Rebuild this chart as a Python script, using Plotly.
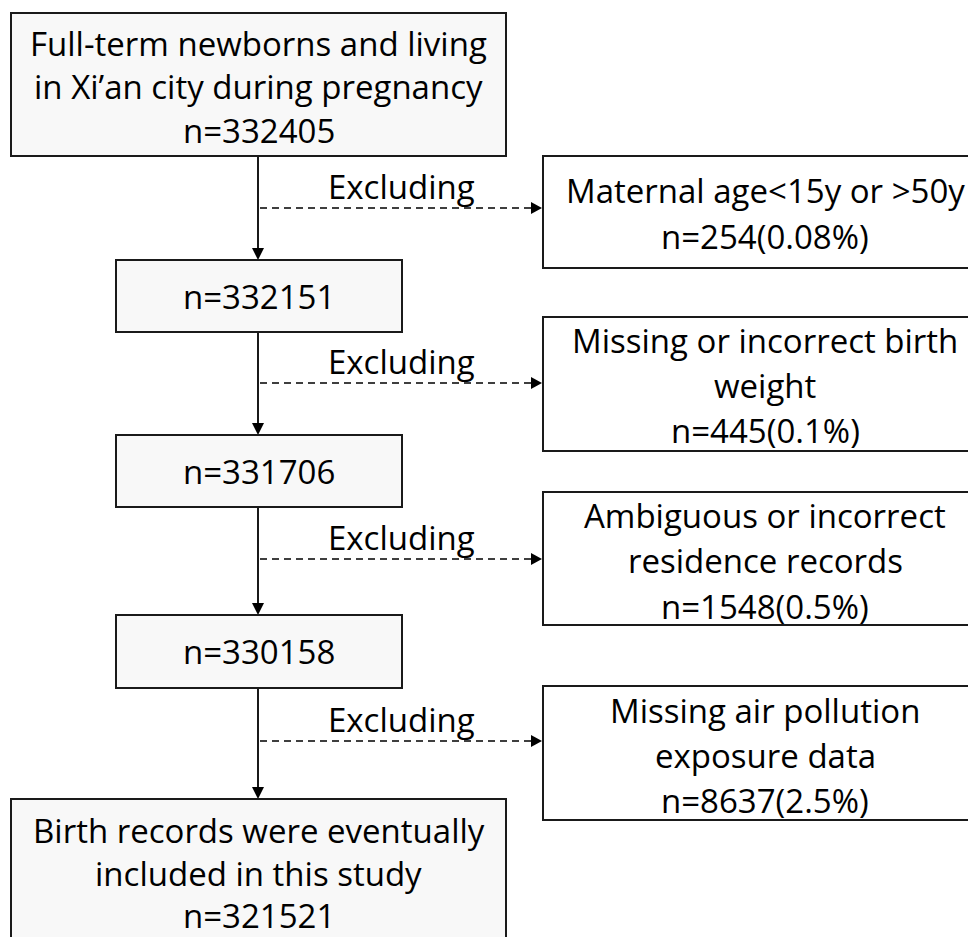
import plotly.graph_objects as go

# ---- data ----
main_labels = [
    ["Full-term newborns and living", "in Xi\u2019an city during pregnancy", "n=332405"],
    ["n=332151"],
    ["n=331706"],
    ["n=330158"],
    ["Birth records were eventually", "included in this study", "n=321521"],
]
excl_labels = [
    ["Maternal age<15y or >50y", "n=254(0.08%)"],
    ["Missing or incorrect birth", "weight", "n=445(0.1%)"],
    ["Ambiguous or incorrect", "residence records", "n=1548(0.5%)"],
    ["Missing air pollution", "exposure data", "n=8637(2.5%)"],
]
arrow_text = "Excluding"

# ---- layout geometry (page pixels) ----
PAD = 8  # page body margin
W, H = 976 - PAD, 937 - PAD
main_boxes = [(11, 13, 506, 156), (116, 260, 402, 332), (116, 435, 402, 507),
              (116, 615, 402, 688), (11, 799, 506, 945)]
main_line_y = [[43, 86, 130], [296], [471], [651], [830, 873, 915]]
excl_boxes = [(543, 156, 985, 268), (543, 317, 985, 451), (543, 492, 985, 625),
              (543, 686, 985, 820)]
excl_line_y = [[190, 236], [340, 385, 430], [515, 560, 606], [710, 755, 800]]
excl_text_x = 765
arrow_y = [208, 383, 559, 741]
spine_x = 258
FONT = "Open Sans"
FS = 33
TXT = "#000000"

fig = go.Figure()
shapes = []
annos = []

def rect(b, fill):
    shapes.append(dict(type="rect", x0=b[0], y0=b[1], x1=b[2], y1=b[3],
                       line=dict(color="#1a1a1a", width=2), fillcolor=fill, layer="above"))

def tri_down(x, ytip):
    shapes.append(dict(type="path", path=f"M {x-6} {ytip-12} L {x+6} {ytip-12} L {x} {ytip} Z",
                       fillcolor="black", line=dict(color="black", width=0)))

def tri_right(xtip, y):
    shapes.append(dict(type="path", path=f"M {xtip-11} {y-6} L {xtip-11} {y+6} L {xtip} {y} Z",
                       fillcolor="black", line=dict(color="black", width=0)))

for i in range(len(main_boxes) - 1):
    y0 = main_boxes[i][3]
    y1 = main_boxes[i + 1][1]
    shapes.append(dict(type="line", x0=spine_x, y0=y0, x1=spine_x, y1=y1 - 10,
                       line=dict(color="black", width=1.8)))
    tri_down(spine_x, y1)

for i, y in enumerate(arrow_y):
    shapes.append(dict(type="line", x0=spine_x + 2, y0=y, x1=excl_boxes[i][0] - 10, y1=y,
                       line=dict(color="black", width=1.6, dash="7px,5px")))
    tri_right(excl_boxes[i][0] - 1, y)
    annos.append(dict(x=401, y=y - 22, text=arrow_text, showarrow=False,
                      xanchor="center", yanchor="middle",
                      font=dict(family=FONT, size=FS, color=TXT)))

for b in main_boxes:
    rect(b, "#f8f8f8")
for b in excl_boxes:
    rect(b, "#ffffff")

for b, lines, ys in zip(main_boxes, main_labels, main_line_y):
    cx = (b[0] + b[2]) / 2
    for t, y in zip(lines, ys):
        annos.append(dict(x=cx, y=y, text=t, showarrow=False, xanchor="center",
                          yanchor="middle", font=dict(family=FONT, size=FS, color=TXT)))

for b, lines, ys in zip(excl_boxes, excl_labels, excl_line_y):
    for t, y in zip(lines, ys):
        annos.append(dict(x=excl_text_x, y=y, text=t, showarrow=False, xanchor="center",
                          yanchor="middle", font=dict(family=FONT, size=FS, color=TXT)))

fig.update_layout(
    width=W, height=H, margin=dict(l=0, r=0, t=0, b=0),
    paper_bgcolor="white", plot_bgcolor="white",
    xaxis=dict(range=[PAD, 976], visible=False, fixedrange=True),
    yaxis=dict(range=[937, PAD], visible=False, fixedrange=True),
    shapes=shapes, annotations=annos, showlegend=False,
)
fig.write_html("out.html")
